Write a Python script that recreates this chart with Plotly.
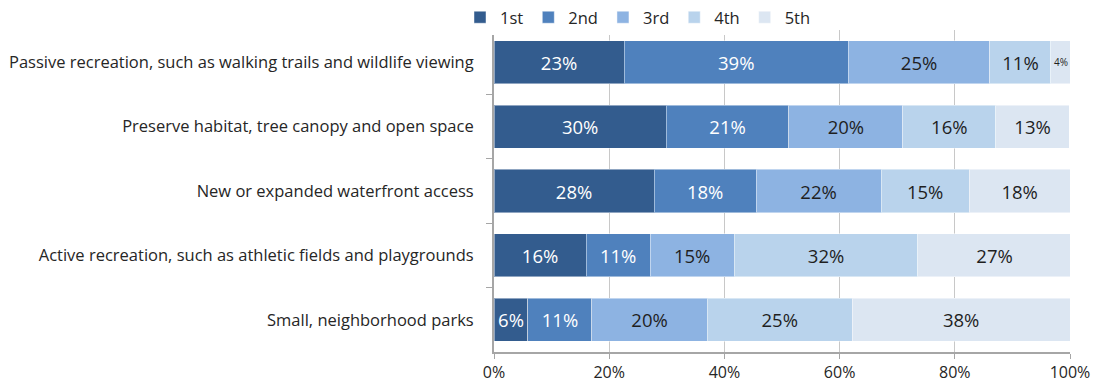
import plotly.graph_objects as go

categories = [
    "Passive recreation, such as walking trails and wildlife viewing",
    "Preserve habitat, tree canopy and open space",
    "New or expanded waterfront access",
    "Active recreation, such as athletic fields and playgrounds",
    "Small, neighborhood parks",
]
series_names = ["1st", "2nd", "3rd", "4th", "5th"]
first = [22.6, 29.9, 27.8, 16.0, 5.9]
second = [38.9, 21.3, 17.7, 11.1, 11.1]
third = [24.6, 19.8, 21.7, 14.6, 20.0]
fourth = [10.6, 16.1, 15.3, 31.9, 25.2]
fifth = [3.5, 12.8, 17.5, 26.6, 37.8]
series_values = [first, second, third, fourth, fifth]
colors = ["#335C8E", "#4F81BD", "#8DB3E2", "#B9D3EC", "#DCE6F2"]
text_colors = ["#FFFFFF", "#FFFFFF", "#1F1F1F", "#1F1F1F", "#1F1F1F"]
tick_vals = [0, 20, 40, 60, 80, 100]
tick_text = ["0%", "20%", "40%", "60%", "80%", "100%"]

FONT = "Open Sans, Noto Sans, sans-serif"

fig = go.Figure()
for name, vals, c, tc in zip(series_names, series_values, colors, text_colors):
    sizes = [13 if v < 5 else 18.5 for v in vals]
    fig.add_trace(go.Bar(
        name=name, y=categories, x=vals, orientation="h",
        marker=dict(color=c, line=dict(width=1, color="rgba(255,255,255,0.45)")),
        text=[f"{round(v)}%" for v in vals],
        textposition="inside", insidetextanchor="middle", textangle=0,
        textfont=dict(color=tc, size=sizes, family=FONT),
        hoverinfo="x+name",
    ))

W, H = 1094, 389
ML, MR, MT, MB = 494, 24, 30, 37
plot_h = H - MT - MB

fig.update_layout(
    barmode="stack", bargap=0.33,
    width=W, height=H,
    margin=dict(l=ML, r=MR, t=MT, b=MB, autoexpand=False),
    plot_bgcolor="white", paper_bgcolor="white",
    font=dict(family=FONT, size=16.5, color="#262626"),
    legend=dict(orientation="h", x=0.25, xanchor="center",
                y=1 + MT / plot_h, yanchor="top",
                font=dict(size=16.5, color="#262626"), traceorder="normal",
                itemwidth=30, tracegroupgap=0),
    xaxis=dict(range=[0, 100], tickvals=tick_vals, ticktext=tick_text,
               showgrid=True, gridcolor="#C8C8C8", gridwidth=1,
               showline=True, linecolor="#A6A6A6", linewidth=2,
               ticks="outside", ticklen=5, tickcolor="#A6A6A6",
               tickfont=dict(size=16, color="#262626"), zeroline=False, fixedrange=True,
               automargin=False),
    yaxis=dict(autorange="reversed", showline=True, linecolor="#A6A6A6", linewidth=2,
               ticks="outside", ticklen=6, tickcolor="#A6A6A6", tickson="boundaries",
               tickfont=dict(size=16.5, color="#262626"), ticklabelstandoff=15,
               automargin=False),
)

fig.write_html("out.html", config={"displayModeBar": False},
               post_script="document.body.style.margin='0';")
